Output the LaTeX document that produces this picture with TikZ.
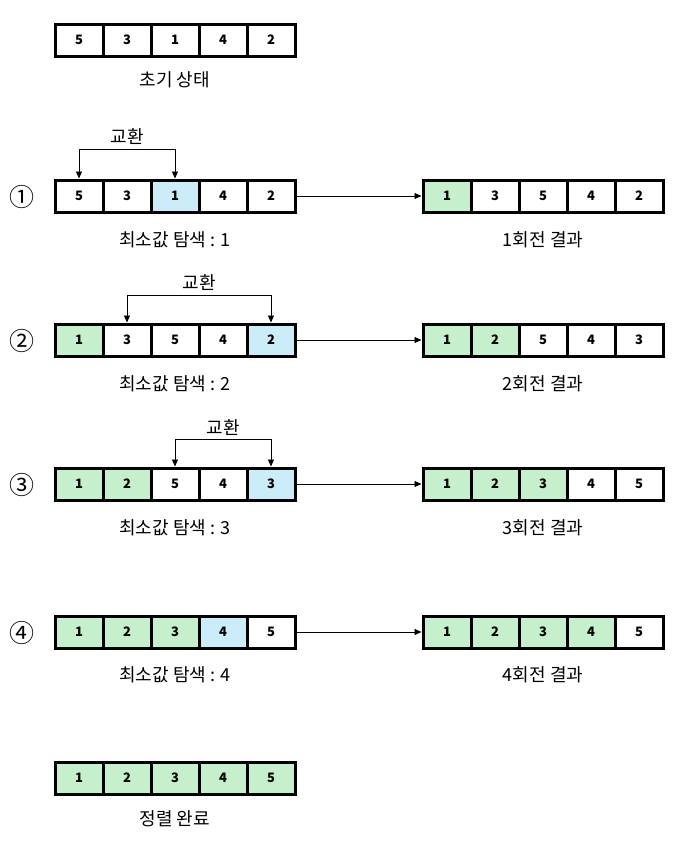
\documentclass[tikz,border=0pt]{standalone}
\usepackage{fontspec}
\setmainfont{Noto Sans CJK KR}
\usetikzlibrary{arrows.meta}
\definecolor{cgreen}{RGB}{198,239,206}
\definecolor{cblue}{RGB}{205,236,250}
\tikzset{
  cell/.style={draw=black, line width=3pt, minimum width=48pt, minimum height=32pt, inner sep=0pt, font=\fontsize{13}{13}\selectfont\bfseries, fill=white},
  gcell/.style={cell, fill=cgreen},
  bcell/.style={cell, fill=cblue},
  lbl/.style={font=\fontsize{18}{18}\selectfont, inner sep=0pt},
  circ/.style={font=\fontsize{25}{25}\selectfont, inner sep=0pt},
  conn/.style={line width=0.9pt, -{Triangle[length=7pt,width=6pt]}},
}
\newcommand{\arr}[4]{% prefix, x-left, y-center, list style/val
  \foreach \s/\v [count=\i from 0] in {#4} {
    \node[\s] (#1\i) at (#2+24+48*\i, #3) {\v};
  }
}
\begin{document}
\begin{tikzpicture}[x=1pt,y=-1pt]
\useasboundingbox (0,0) rectangle (681,841);
% initial
\arr{a}{55}{40}{cell/5,cell/3,cell/1,cell/4,cell/2}
\node[lbl] (la) at (175,80) {초기 상태};
% row 1
\node[circ] (c1) at (22,197) {①};
\arr{b}{55}{196}{cell/5,cell/3,bcell/1,cell/4,cell/2}
\arr{B}{423}{196}{gcell/1,cell/3,cell/5,cell/4,cell/2}
\node[lbl] (lb) at (175,240) {최소값 탐색 : 1};
\node[lbl] (lB) at (543,240) {1회전 결과};
\node[lbl] (sb) at (127,137) {교환};
\draw[line width=0.9pt] (b0.center |- 0,149) -- (b2.center |- 0,149);
\draw[conn] (b0.center |- 0,149) -- (b0.north);
\draw[conn] (b2.center |- 0,149) -- (b2.north);
\draw[conn] (b4.east) -- (B0.west);
% row 2
\node[circ] (c2) at (22,341) {②};
\arr{c}{55}{340}{gcell/1,cell/3,cell/5,cell/4,bcell/2}
\arr{C}{423}{340}{gcell/1,gcell/2,cell/5,cell/4,cell/3}
\node[lbl] (lc) at (175,384) {최소값 탐색 : 2};
\node[lbl] (lC) at (543,384) {2회전 결과};
\node[lbl] (sc) at (199,283) {교환};
\draw[line width=0.9pt] (c1.center |- 0,295) -- (c4.center |- 0,295);
\draw[conn] (c1.center |- 0,295) -- (c1.north);
\draw[conn] (c4.center |- 0,295) -- (c4.north);
\draw[conn] (c4.east) -- (C0.west);
% row 3
\node[circ] (c3) at (22,485) {③};
\arr{d}{55}{484}{gcell/1,gcell/2,cell/5,cell/4,bcell/3}
\arr{D}{423}{484}{gcell/1,gcell/2,gcell/3,cell/4,cell/5}
\node[lbl] (ld) at (175,528) {최소값 탐색 : 3};
\node[lbl] (lD) at (543,528) {3회전 결과};
\node[lbl] (sd) at (223,428) {교환};
\draw[line width=0.9pt] (d2.center |- 0,439) -- (d4.center |- 0,439);
\draw[conn] (d2.center |- 0,439) -- (d2.north);
\draw[conn] (d4.center |- 0,439) -- (d4.north);
\draw[conn] (d4.east) -- (D0.west);
% row 4
\node[circ] (c4) at (22,633) {④};
\arr{e}{55}{632}{gcell/1,gcell/2,gcell/3,bcell/4,cell/5}
\arr{E}{423}{632}{gcell/1,gcell/2,gcell/3,gcell/4,cell/5}
\node[lbl] (le) at (175,675) {최소값 탐색 : 4};
\node[lbl] (lE) at (543,675) {4회전 결과};
\draw[conn] (e4.east) -- (E0.west);
% final
\arr{f}{55}{778}{gcell/1,gcell/2,gcell/3,gcell/4,gcell/5}
\node[lbl] (lf) at (175,819) {정렬 완료};
\end{tikzpicture}
\end{document}
